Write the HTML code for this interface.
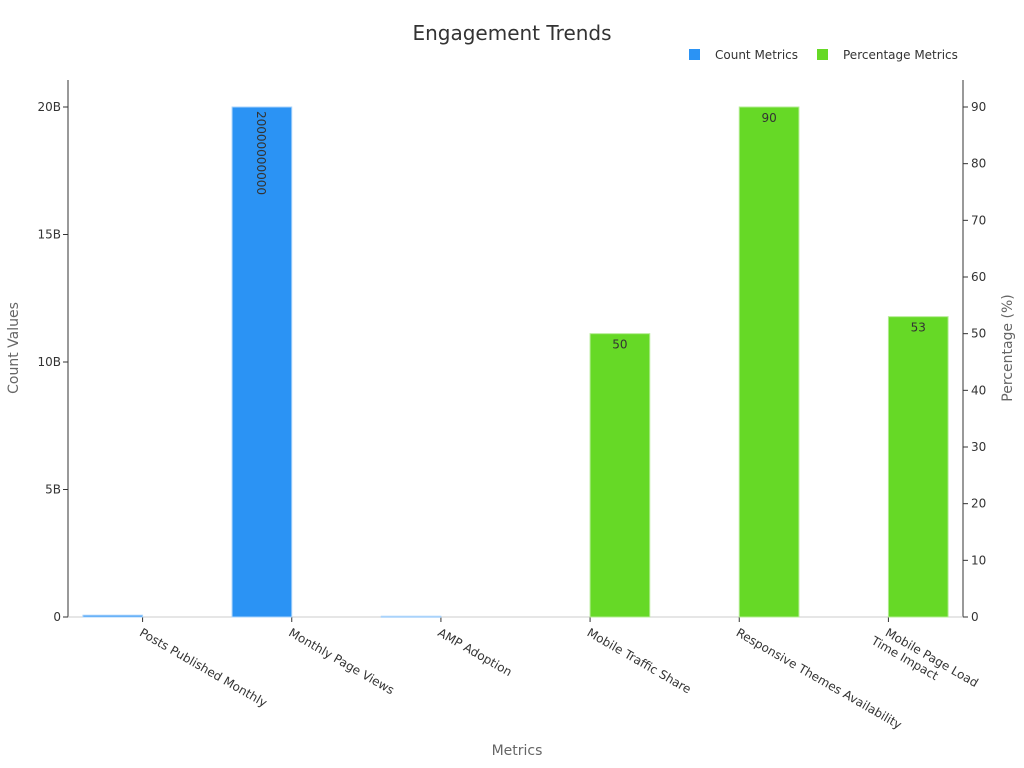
<!DOCTYPE html>
<html><head><meta charset="utf-8">
<style>
html,body{margin:0;padding:0;background:#fff;}
svg{display:block;font-family:"DejaVu Sans","Liberation Sans",sans-serif;}
</style></head>
<body>
<svg id="chart" width="1024" height="768">
<text x="512" y="40" text-anchor="middle" font-size="20" fill="#333">Engagement Trends</text>
<g>
<rect x="689" y="49" width="11" height="11" fill="#2b93f4"/>
<text x="715" y="59" font-size="12" fill="#333">Count Metrics</text>
<rect x="817" y="49" width="11" height="11" fill="#66d926"/>
<text x="843" y="59" font-size="12" fill="#333">Percentage Metrics</text>
</g>
<g id="plot"></g>
<text x="517" y="755" text-anchor="middle" font-size="14" fill="#666">Metrics</text>
<text transform="translate(18,348) rotate(-90)" text-anchor="middle" font-size="14" fill="#666">Count Values</text>
<text transform="translate(1012,348) rotate(-90)" text-anchor="middle" font-size="14" fill="#666">Percentage (%)</text>
</svg>
<script>
const categories = ["Posts Published Monthly","Monthly Page Views","AMP Adoption","Mobile Traffic Share","Responsive Themes Availability","Mobile Page Load|Time Impact"];
const countValues = [70000000, 20000000000, 30000000, null, null, null];
const pctValues = [null, null, null, 50, 90, 53];
const leftTicks = [0, 5e9, 10e9, 15e9, 20e9];
const leftTickLabels = ["0","5B","10B","15B","20B"];
const rightTicks = [0,10,20,30,40,50,60,70,80,90];

const NS="http://www.w3.org/2000/svg";
const g=document.getElementById('plot');
const X0=68,X1=963,Y0=617,YT=80;
const yL=v=>Y0-v/20e9*510;
const yR=v=>Y0-v/90*510;
const band=(X1-X0)/categories.length;
const xc=i=>X0+band*(i+0.5);
function el(t,a,txt){const e=document.createElementNS(NS,t);for(const k in a)e.setAttribute(k,a[k]);if(txt!=null)e.textContent=txt;g.appendChild(e);return e;}

let e;
e=el('line',{x1:X0,y1:YT,x2:X0,y2:Y0,stroke:'#333'});


e=el('line',{x1:X1,y1:YT,x2:X1,y2:Y0,stroke:'#333'});


e=el('line',{x1:X0,y1:Y0,x2:X1,y2:Y0,stroke:'#ccc'});



leftTicks.forEach((v,i)=>{
  el('line',{x1:X0-5,y1:yL(v),x2:X0,y2:yL(v),stroke:'#333'});
  e=el('text',{x:X0-7,y:yL(v)+4,'text-anchor':'end','font-size':12,fill:'#333'},leftTickLabels[i]);
  
  
});
rightTicks.forEach(v=>{
  el('line',{x1:X1,y1:yR(v),x2:X1+5,y2:yR(v),stroke:'#333'});
  e=el('text',{x:X1+8,y:yR(v)+4,'font-size':12,fill:'#333'},String(v));
  
  
});
const bw=band*0.4;
categories.forEach((c,i)=>{
  const x=xc(i);
  el('line',{x1:x,y1:Y0,x2:x,y2:Y0+5,stroke:'#333'});
  const lines=c.split('|');
  e=el('text',{transform:`translate(${x-4},${Y0+18}) rotate(30)`,'font-size':12,fill:'#333'});
  
  
  lines.forEach((l,j)=>{const t=document.createElementNS(NS,'tspan');t.setAttribute('x',lines.length>1?-(lines.length-1-j)*0:0);t.setAttribute('dy',j?14:0);if(lines.length>1&&j==0){t.setAttribute('x',0);}t.textContent=l;e.appendChild(t);});
  if(lines.length>1){e.setAttribute('transform',`translate(${x-4},${Y0+18}) rotate(30)`);e.firstChild.setAttribute('x',0);e.lastChild.setAttribute('x',-8);e.firstChild.setAttribute('y',0);}
  if(countValues[i]!=null){
    const y=yL(countValues[i]);
    e=el('rect',{x:x-bw,y:y,width:bw,height:Math.max(1,Y0-y),fill:'#2b93f4',stroke:'#a9d3fb','stroke-width':1});
    
    
    if(Y0-y>40){
      e=el('text',{transform:`translate(${x-bw/2-5},${y+4}) rotate(90)`,'font-size':12,fill:'#333'},String(countValues[i]));
      
      
    }
  }
  if(pctValues[i]!=null){
    const y=yR(pctValues[i]);
    e=el('rect',{x:x,y:y,width:bw,height:Y0-y,fill:'#66d926',stroke:'#b3ec93','stroke-width':1});
    
    
    e=el('text',{x:x+bw/2,y:y+15,'text-anchor':'middle','font-size':12,fill:'#333'},String(pctValues[i]));
    
    
  }
});
</script>
</body></html>
